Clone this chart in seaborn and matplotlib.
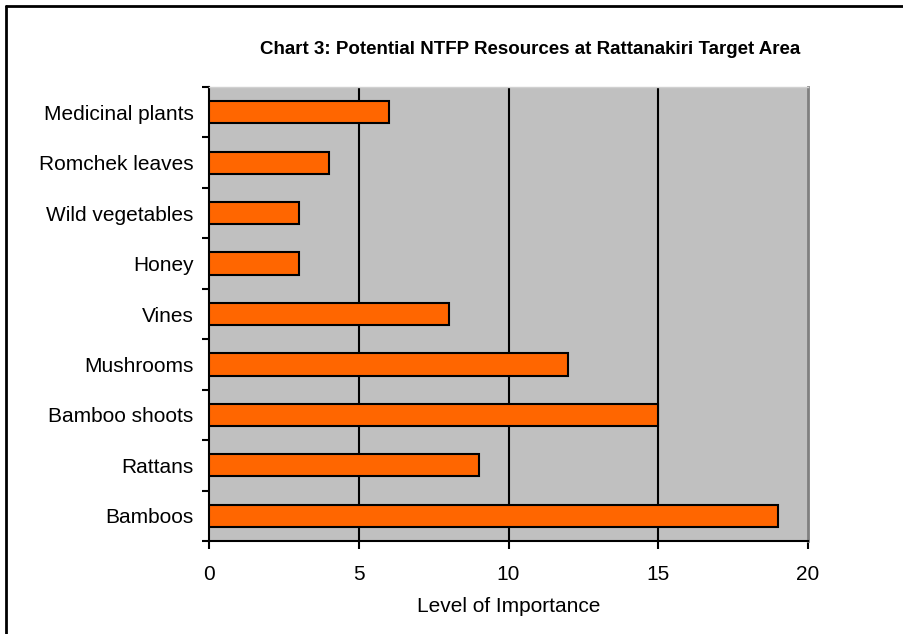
import matplotlib
matplotlib.use("Agg")
import matplotlib.pyplot as plt
import seaborn as sns
import pandas as pd
import numpy as np
from matplotlib.lines import Line2D

categories = ["Medicinal plants", "Romchek leaves", "Wild vegetables", "Honey", "Vines",
              "Mushrooms", "Bamboo shoots", "Rattans", "Bamboos"]
values = [6, 4, 3, 3, 8, 12, 15, 9, 19]
x_ticks = [0, 5, 10, 15, 20]

df = pd.DataFrame({"category": categories, "value": values})

sns.set_theme(style="white")
plt.rcParams["font.family"] = ["Liberation Sans", "DejaVu Sans"]
plt.rcParams["text.color"] = "black"
plt.rcParams["axes.labelcolor"] = "black"
plt.rcParams["xtick.color"] = "black"
plt.rcParams["ytick.color"] = "black"

fig = plt.figure(figsize=(9.04, 6.34), dpi=100)
ax = fig.add_axes([209/904, 1 - 541/634, (808-209)/904, (541-87)/634])
ax.set_facecolor("#c0c0c0")

sns.barplot(data=df, x="value", y="category", orient="h", ax=ax,
            color="#ff6600", saturation=1, width=0.44,
            edgecolor="black", linewidth=1.5, zorder=3)

ax.set_xlim(0, 20)
ax.set_ylim(len(categories) - 0.5, -0.5)
ax.set_xticks(x_ticks)
ax.set_xticklabels([str(t) for t in x_ticks], fontsize=15, color="black")
for t in x_ticks[1:-1]:
    ax.axvline(t, color="black", linewidth=1.5, zorder=1)

ax.set_yticks(range(len(categories)))
ax.set_yticklabels(categories, fontsize=15, color="black")
ax.set_yticks(np.arange(-0.5, len(categories), 1.0), minor=True)
ax.tick_params(axis="y", which="major", length=0, pad=11)
ax.tick_params(axis="y", which="minor", length=5, width=1.5, color="black", left=True, direction="out")
ax.tick_params(axis="x", which="major", length=6, width=1.5, color="black", bottom=True, direction="out", pad=11)

ax.set_xlabel("Level of Importance", fontsize=15, labelpad=10, color="black")
ax.set_ylabel("")

for s in ["left", "bottom"]:
    ax.spines[s].set_visible(True)
    ax.spines[s].set_color("black")
    ax.spines[s].set_linewidth(1.5)
ax.spines["right"].set_color("#808080")
ax.spines["right"].set_linewidth(2)
ax.spines["top"].set_color("#d0d0d0")
ax.spines["top"].set_linewidth(1)

fig.text(530/904, 1 - 50/634, "Chart 3: Potential NTFP Resources at Rattanakiri Target Area",
         ha="center", va="center", fontsize=13.5, fontweight="bold", color="black")

# outer frame (top and left visible)
fig.add_artist(Line2D([6.5/904, 6.5/904], [0, 1 - 5.5/634], transform=fig.transFigure, color="black", linewidth=2))
fig.add_artist(Line2D([6.5/904, 1], [1 - 5.5/634, 1 - 5.5/634], transform=fig.transFigure, color="black", linewidth=2))

fig.savefig("out.png", dpi=100)
